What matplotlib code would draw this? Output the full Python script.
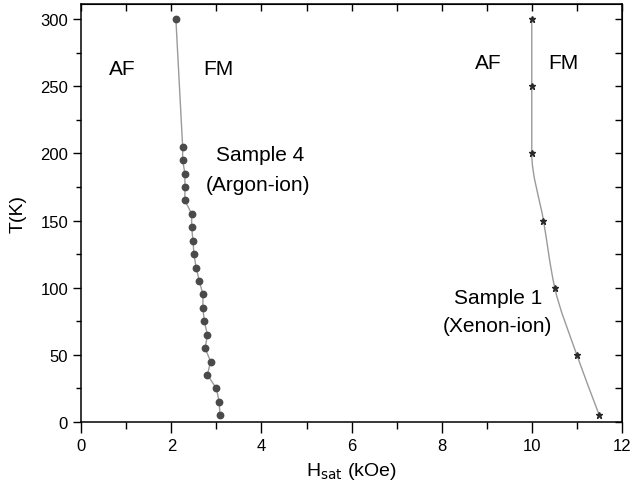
import numpy as np
import matplotlib
matplotlib.use("Agg")
import matplotlib.pyplot as plt
from matplotlib.path import Path
from matplotlib.patches import PathPatch
from matplotlib.ticker import MultipleLocator

plt.rcParams["font.family"] = ["Liberation Sans", "DejaVu Sans"]

# Sample 4 (argon-ion): saturation field vs temperature
s4_T = [300, 205, 195, 185, 175, 165, 155, 145, 135, 125, 115, 105,
        95, 85, 75, 65, 55, 45, 35, 25, 15, 5]
s4_H = [2.10, 2.25, 2.25, 2.30, 2.30, 2.30, 2.45, 2.45, 2.48, 2.50, 2.55, 2.62,
        2.70, 2.70, 2.73, 2.80, 2.75, 2.87, 2.80, 3.00, 3.06, 3.08]

# Sample 1 (xenon-ion)
s1_T = [300, 250, 200, 150, 100, 50, 5]
s1_H = [10.0, 10.0, 10.0, 10.26, 10.51, 11.0, 11.5]

xticks = [0, 2, 4, 6, 8, 10, 12]
yticks = [0, 50, 100, 150, 200, 250, 300]


def smooth_path(h, t):
    """Monotone cubic (H as a function of T) through the points, as Bezier segments."""
    t = np.asarray(t, float)
    h = np.asarray(h, float)
    d = np.diff(h) / np.diff(t)
    m = np.zeros_like(h)
    m[0], m[-1] = d[0], d[-1]
    for i in range(1, len(h) - 1):
        if d[i - 1] * d[i] > 0:
            m[i] = 2.0 / (1.0 / d[i - 1] + 1.0 / d[i])
    verts = [(h[0], t[0])]
    codes = [Path.MOVETO]
    for i in range(len(h) - 1):
        dt = t[i + 1] - t[i]
        verts += [(h[i] + m[i] * dt / 3, t[i] + dt / 3),
                  (h[i + 1] - m[i + 1] * dt / 3, t[i + 1] - dt / 3),
                  (h[i + 1], t[i + 1])]
        codes += [Path.CURVE4] * 3
    return Path(verts, codes)


fig = plt.figure(figsize=(6.33, 5.02), dpi=100)
ax = fig.add_axes([0.1284, 0.1574, 0.854, 0.832])

line_c = "#9a9a9a"
mark_c = "#4a4a4a"

ax.plot(s4_H, s4_T, "-", color=line_c, lw=1.0, zorder=2)
ax.plot(s4_H, s4_T, "o", color=mark_c, ms=4.6, mec=mark_c, zorder=3)

ax.add_patch(PathPatch(smooth_path(s1_H, s1_T), fc="none", ec=line_c, lw=1.0, zorder=2))
ax.plot(s1_H, s1_T, "*", color="#2a2a2a", ms=5, zorder=3)

ax.set_xlim(0, 12)
ax.set_ylim(0, 311)
ax.set_xticks(xticks)
ax.set_yticks(yticks)
ax.xaxis.set_minor_locator(MultipleLocator(1))
ax.yaxis.set_minor_locator(MultipleLocator(25))

ax.tick_params(axis="both", which="major", direction="out", length=6, width=1,
               labelsize=12, colors="black")
ax.tick_params(axis="both", which="minor", direction="out", length=3.5, width=1)
ax.tick_params(axis="x", which="major", length=8)
ax.tick_params(axis="x", which="minor", length=5)
for s in ax.spines.values():
    s.set_linewidth(1.1)

# mirrored inward ticks on top and right
top = ax.secondary_xaxis("top")
top.set_xticks(np.arange(0, 13, 1))
top.tick_params(direction="in", length=5, width=1, labeltop=False)
right = ax.secondary_yaxis("right")
right.set_yticks(np.arange(0, 326, 25))
right.tick_params(direction="in", length=5, width=1, labelright=False)

fs = 15
ax.text(0.9, 263, "AF", fontsize=fs, ha="center", va="center")
ax.text(3.05, 263, "FM", fontsize=fs, ha="center", va="center")
ax.text(3.97, 199, "Sample 4", fontsize=fs, ha="center", va="center")
ax.text(3.93, 177, "(Argon-ion)", fontsize=fs, ha="center", va="center")
ax.text(9.03, 268, "AF", fontsize=fs, ha="center", va="center")
ax.text(10.7, 268, "FM", fontsize=fs, ha="center", va="center")
ax.text(9.25, 93, "Sample 1", fontsize=fs, ha="center", va="center")
ax.text(9.23, 72, "(Xenon-ion)", fontsize=fs, ha="center", va="center")

ax.set_xlabel(r"H$_{\rm sat}$ (kOe)", fontsize=14, labelpad=5)
ax.set_ylabel("T(K)", fontsize=14, labelpad=10)

fig.savefig("out.png", dpi=100)
